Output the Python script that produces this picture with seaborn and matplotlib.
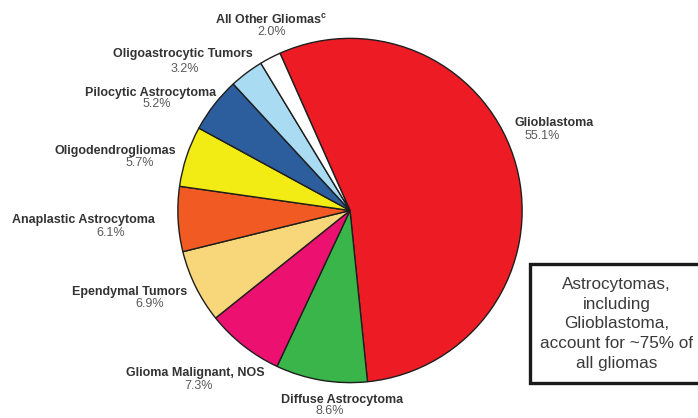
import matplotlib
matplotlib.use("Agg")
import matplotlib.pyplot as plt
from matplotlib.patches import Rectangle
import seaborn as sns

# Distribution of gliomas by histology (percent of all gliomas)
categories = [
    "Glioblastoma",
    "Diffuse Astrocytoma",
    "Glioma Malignant, NOS",
    "Ependymal Tumors",
    "Anaplastic Astrocytoma",
    "Oligodendrogliomas",
    "Pilocytic Astrocytoma",
    "Oligoastrocytic Tumors",
    "All Other Gliomas$^{\\mathrm{c}}$",
]
shares = [55.1, 8.6, 7.3, 6.9, 6.1, 5.7, 5.2, 3.2, 2.0]
slice_colors = [
    "#ED1C24", "#39B54A", "#EC1170", "#F7D77A", "#F15A22",
    "#F2EC14", "#2C5E9E", "#A9DBF3", "#FFFFFF",
]

# Label anchor points in pixels (x from left, y from top): name line, percent line
name_xy = [(554, 123), (342, 400), (195, 373), (130, 292), (83, 220),
           (115, 151), (151, 93), (183, 54), (271, 20)]
pct_xy = [(542, 136), (330, 411), (199, 386), (150, 304), (111, 233),
          (140, 163), (157, 104), (185, 69), (272, 32)]

note = "Astrocytomas,\nincluding\nGlioblastoma,\naccount for ~75% of\nall gliomas"

sns.set_theme(style="white")
plt.rcParams["font.family"] = ["Liberation Sans", "DejaVu Sans"]
plt.rcParams["mathtext.fontset"] = "custom"
plt.rcParams["mathtext.rm"] = "Liberation Sans:bold"
plt.rcParams["mathtext.bf"] = "Liberation Sans:bold"

W, H = 698, 418
fig = plt.figure(figsize=(W / 100, H / 100), dpi=100)
fig.patch.set_facecolor("white")

cx, cy, r = 350, 210.5, 173
ax = fig.add_axes([(cx - r) / W, (H - cy - r) / H, 2 * r / W, 2 * r / H])
ax.pie(
    shares,
    colors=slice_colors,
    startangle=114,
    counterclock=False,
    radius=1.0,
    wedgeprops=dict(edgecolor="#1e1e1e", linewidth=1.0),
)
ax.set_xlim(-1.005, 1.005)
ax.set_ylim(-1.005, 1.005)
ax.set_aspect("auto")
ax.axis("off")


def fx(px):
    return px / W


def fy(py):
    return 1 - py / H


for name, val, (nx, ny), (px, py) in zip(categories, shares, name_xy, pct_xy):
    fig.text(fx(nx), fy(ny), name, ha="center", va="center",
             fontsize=9, fontweight="bold", color="#333333")
    fig.text(fx(px), fy(py), f"{val:.1f}%", ha="center", va="center",
             fontsize=9, color="#5a5a5a")

# Callout box at the lower right
box = Rectangle((fx(530), fy(383)), fx(720 - 530), (383 - 264) / H,
                transform=fig.transFigure, facecolor="white",
                edgecolor="#1a1a1a", linewidth=2.4, clip_on=False)
fig.add_artist(box)
fig.text(fx(616.5), fy(324), note, ha="center", va="center",
         fontsize=12.3, color="#3a3a3a", linespacing=1.4)

fig.savefig("out.png", dpi=100)
